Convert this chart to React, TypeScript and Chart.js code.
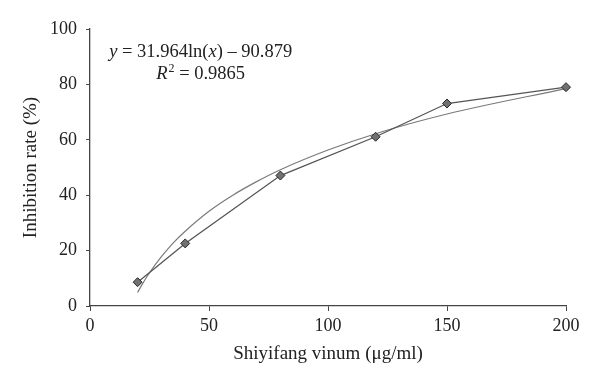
import React, { useEffect, useRef } from "react";
import { Chart, registerables } from "chart.js";

Chart.register(...registerables);

const doses = [20, 40, 80, 120, 150, 200];
const inhibition = [8.6, 22.6, 47.1, 61.1, 73.1, 79.0];

// logarithmic trend line
const trendX = [20, 22, 25, 30, 35, 40, 50, 60, 70, 80, 100, 120, 150, 200];
const trendY = [4.9, 7.9, 12.0, 17.8, 22.8, 27.0, 34.2, 40.0, 44.9, 49.2, 56.3, 62.2, 69.3, 78.5];

const xTicks = [0, 50, 100, 150, 200];
const yTicks = [0, 20, 40, 60, 80, 100];

const FONT = "'Liberation Serif', 'DejaVu Serif', serif";

const equationPlugin = {
  id: "equation",
  afterDraw(chart: any) {
    const ctx = chart.ctx;
    const xs = chart.scales.x;
    const cx = xs.getPixelForValue(46.5);
    ctx.save();
    ctx.fillStyle = "#222";
    ctx.textBaseline = "alphabetic";
    const size = 18.5;
    const drawParts = (parts: [string, string][], baseline: number) => {
      let total = 0;
      for (const [t, f] of parts) {
        ctx.font = f;
        total += ctx.measureText(t).width;
      }
      let x = cx - total / 2;
      for (const [t, f] of parts) {
        ctx.font = f;
        ctx.textAlign = "left";
        ctx.fillText(t, x, baseline);
        x += ctx.measureText(t).width;
      }
    };
    const reg = `${size}px ${FONT}`;
    const ital = `italic ${size}px ${FONT}`;
    const sup = `${Math.round(size * 0.65)}px ${FONT}`;
    drawParts(
      [
        ["y", ital],
        [" = 31.964ln(", reg],
        ["x", ital],
        [") \u2013 90.879", reg],
      ],
      57
    );
    const p1 = "R";
    const p2 = "2";
    const p3 = " = 0.9865";
    ctx.font = ital;
    const w1 = ctx.measureText(p1).width;
    ctx.font = sup;
    const w2 = ctx.measureText(p2).width;
    ctx.font = reg;
    const w3 = ctx.measureText(p3).width;
    let x = cx - (w1 + w2 + w3 + 1) / 2;
    const b = 79;
    ctx.font = ital;
    ctx.fillText(p1, x, b);
    x += w1 + 1;
    ctx.font = sup;
    ctx.fillText(p2, x, b - 7);
    x += w2;
    ctx.font = reg;
    ctx.fillText(p3, x, b);
    ctx.restore();
  },
};

export default function App() {
  const ref = useRef<HTMLCanvasElement>(null);
  useEffect(() => {
    document.body.style.margin = "0";
    const chart = new Chart(ref.current!, {
      type: "scatter",
      data: {
        datasets: [
          {
            label: "data",
            data: doses.map((d, i) => ({ x: d, y: inhibition[i] })),
            showLine: true,
            clip: false,
            borderColor: "#555555",
            borderWidth: 1.3,
            pointStyle: "rectRot",
            pointRadius: 4.5,
            pointBackgroundColor: "#707070",
            pointBorderColor: "#2a2a2a",
            pointBorderWidth: 1,
            order: 0,
          },
          {
            label: "trend",
            data: trendX.map((d, i) => ({ x: d, y: trendY[i] })),
            showLine: true,
            clip: false,
            borderColor: "#7a7a7a",
            borderWidth: 1.2,
            pointRadius: 0,
            cubicInterpolationMode: "monotone",
            order: 1,
          },
        ],
      },
      options: {
        animation: false,
        responsive: true,
        maintainAspectRatio: false,
        layout: { padding: { top: 29, right: 34, bottom: 0, left: 0 } },
        plugins: {
          legend: { display: false },
          tooltip: { enabled: false },
        },
        scales: {
          x: {
            type: "linear",
            min: 0,
            max: 200,
            afterBuildTicks: (s: any) => {
              s.ticks = xTicks.map((v) => ({ value: v }));
            },
            afterFit: (s: any) => {
              s.height = 81;
            },
            grid: {
              drawOnChartArea: false,
              drawTicks: true,
              tickLength: 5,
              color: "#444",
            },
            border: { color: "#444", width: 1.3 },
            ticks: {
              color: "#222",
              font: { family: FONT, size: 18 },
              padding: 4,
              maxRotation: 0,
            },
            title: {
              display: true,
              text: "Shiyifang vinum (\u03bcg/ml)",
              color: "#222",
              font: { family: FONT, size: 19 },
              padding: { top: 0, bottom: 22 },
            },
          },
          y: {
            type: "linear",
            min: 0,
            max: 100,
            afterBuildTicks: (s: any) => {
              s.ticks = yTicks.map((v) => ({ value: v }));
            },
            afterFit: (s: any) => {
              s.width = 90;
            },
            grid: {
              drawOnChartArea: false,
              drawTicks: true,
              tickLength: 4,
              color: "#444",
            },
            border: { color: "#444", width: 1.3 },
            ticks: {
              color: "#222",
              font: { family: FONT, size: 18 },
              padding: 9,
            },
            title: {
              display: true,
              text: "Inhibition rate (%)",
              color: "#222",
              font: { family: FONT, size: 19 },
              padding: { top: 20, bottom: 0 },
            },
          },
        },
      },
      plugins: [equationPlugin],
    } as any);
    return () => chart.destroy();
  }, []);
  return (
    <div style={{ position: "fixed", left: 0, top: 0, width: 600, height: 387, background: "#fff" }}>
      <canvas ref={ref} />
    </div>
  );
}
